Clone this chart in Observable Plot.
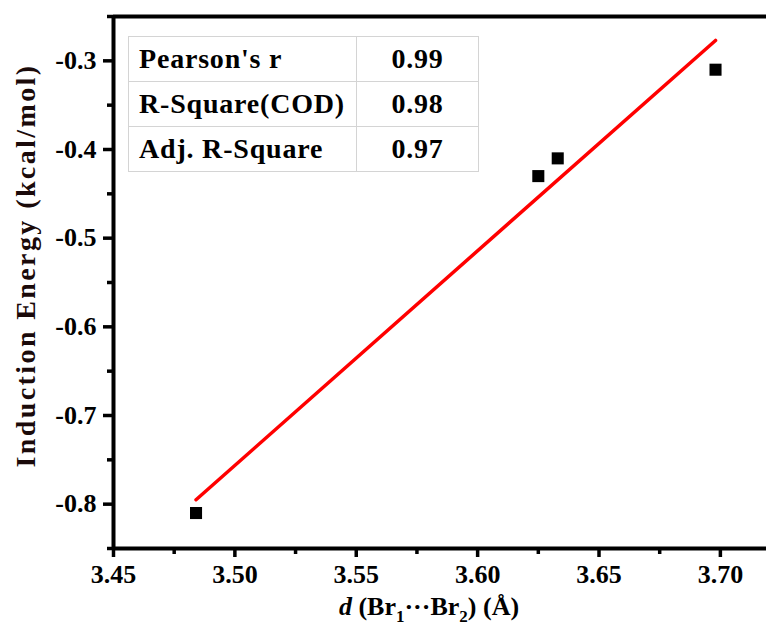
<!DOCTYPE html>
<html>
<head>
<meta charset="utf-8">
<script src="https://cdn.jsdelivr.net/npm/d3@7"></script>
<script src="https://cdn.jsdelivr.net/npm/@observablehq/plot@0.6"></script>
<style>
  html, body { margin: 0; padding: 0; background: #fff; }
  #wrap { position: relative; width: 766px; height: 634px; }
  #stats { position: absolute; left: 128px; top: 36px; border-collapse: collapse;
    font-family: "Liberation Serif", Tinos, "Times New Roman", "DejaVu Serif", serif; font-weight: bold; font-size: 28px;
    letter-spacing: 0.8px; border: 1.5px solid #555; background: #fff; }
  #stats td { border: 1.5px solid #d4d4d4; height: 44px; padding: 0 0 0 10px; line-height: 1; }
  #stats td.v { text-align: center; padding: 0; width: 121px; }
  #stats td.n { width: 217px; }
  svg text { font-family: "Liberation Serif", Tinos, "Times New Roman", "DejaVu Serif", serif; }
</style>
</head>
<body>
<div id="wrap"></div>
<script>
// Data points
const dist = [3.484, 3.625, 3.633, 3.698];
const energy = [-0.81, -0.43, -0.41, -0.31];
// Linear fit endpoints
const fitX = [3.484, 3.698];
const fitY = [-0.795, -0.277];
// Statistics table
const statNames = ["Pearson's r", "R-Square(COD)", "Adj. R-Square"];
const statValues = ["0.99", "0.98", "0.97"];
// Ticks
const xTicks = [3.45, 3.50, 3.55, 3.60, 3.65, 3.70];
const xMinor = [3.475, 3.525, 3.575, 3.625, 3.675];
const yTicks = [-0.8, -0.7, -0.6, -0.5, -0.4, -0.3];
const yMinor = [-0.85, -0.75, -0.65, -0.55, -0.45, -0.35, -0.25];

const points = dist.map((d, i) => ({x: d, y: energy[i]}));
const fit = fitX.map((d, i) => ({x: d, y: fitY[i]}));

const FS = 26;
const YLABEL = "Induction Energy (kcal/mol)";
const chart = Plot.plot({
  width: 766,
  height: 634,
  marginLeft: 113,
  marginRight: 0,
  marginTop: 16,
  marginBottom: 86,
  style: {fontFamily: "'Liberation Serif', Tinos, 'Times New Roman', 'DejaVu Serif', serif", fontWeight: "bold", fontSize: FS + "px", color: "#000", background: "#fff"},
  x: {domain: [3.45, 3.719], axis: null},
  y: {domain: [-0.85, -0.25], axis: null},
  marks: [
    Plot.axisX(xTicks, {tickSize: 9, tickPadding: 7, strokeWidth: 3.5, fontSize: FS, tickFormat: d => d.toFixed(2), label: null}),
    Plot.axisX(xMinor, {tickSize: 6, strokeWidth: 3.5, tickFormat: () => "", label: null}),
    Plot.axisY(yTicks, {tickSize: 10, tickPadding: 7, strokeWidth: 3.5, fontSize: FS, tickFormat: d => d.toFixed(1), label: null}),
    Plot.axisY(yMinor, {tickSize: 6, strokeWidth: 3.5, tickFormat: () => "", label: null}),
    Plot.ruleY([-0.25], {strokeWidth: 4}),
    Plot.ruleY([-0.85], {strokeWidth: 4}),
    Plot.ruleX([3.45], {strokeWidth: 4}),
    Plot.line(fit, {x: "x", y: "y", stroke: "#ff0000", strokeWidth: 3.5}),
    Plot.dot(points, {x: "x", y: "y", symbol: "square", r: 6.8, fill: "#000", stroke: null}),
    Plot.text([YLABEL], {frameAnchor: "left", textAnchor: "middle", rotate: -90, dx: -87, fontSize: 28, fill: "#1a0a0a"}),
    Plot.text(["XTITLE"], {frameAnchor: "bottom", textAnchor: "middle", dx: -11, dy: 66, fontSize: FS, fill: "#000"})
  ]
});

const svg = d3.select(chart);
svg.selectAll("text").each(function() {
  const t = d3.select(this);
  const s = t.text();
  if (s === YLABEL) {
    t.style("letter-spacing", "2.4px");
    const tr = t.attr("transform");
    if (tr) t.attr("transform", tr + " translate(17,0)");
  }
  if (s === "XTITLE") {
    t.text("");
    t.append("tspan").attr("font-style", "italic").text("d");
    t.append("tspan").text(" (Br");
    t.append("tspan").attr("font-size", 17).attr("dy", 7).text("1");
    t.append("tspan").attr("dy", -7).text("···Br");
    t.append("tspan").attr("font-size", 17).attr("dy", 7).text("2");
    t.append("tspan").attr("dy", -7).text(") (Å)");
  }
});

const wrap = document.getElementById("wrap");
wrap.appendChild(chart);

const table = document.createElement("table");
table.id = "stats";
statNames.forEach((n, i) => {
  const tr = document.createElement("tr");
  const a = document.createElement("td"); a.className = "n"; a.textContent = n;
  const b = document.createElement("td"); b.className = "v"; b.textContent = statValues[i];
  tr.appendChild(a); tr.appendChild(b); table.appendChild(tr);
});
wrap.appendChild(table);
</script>
</body>
</html>
